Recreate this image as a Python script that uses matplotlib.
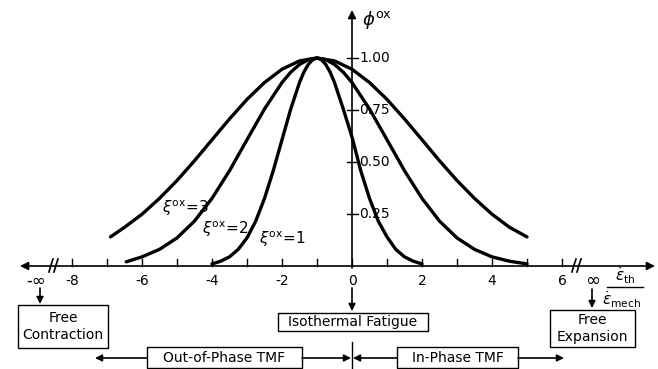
import matplotlib.pyplot as plt
from matplotlib.patches import Rectangle

# curves (phi^ox against eps_th / eps_mech)
x_xi1 = [-4.0, -3.75, -3.5, -3.25, -3.0, -2.75, -2.5, -2.25, -2.0, -1.75, -1.5, -1.375, -1.25, -1.125, -1.0,
         -0.875, -0.75, -0.625, -0.5, -0.25, 0.0, 0.25, 0.5, 0.75, 1.0, 1.25, 1.5, 1.75, 2.0]
phi_xi1 = [0.01, 0.023, 0.044, 0.08, 0.135, 0.216, 0.325, 0.458, 0.607, 0.755, 0.882, 0.932, 0.969, 0.992, 1.0,
           0.992, 0.969, 0.932, 0.882, 0.755, 0.62, 0.458, 0.325, 0.216, 0.14, 0.08, 0.044, 0.023, 0.01]

x_xi2 = [-6.45, -6.0, -5.5, -5.0, -4.5, -4.0, -3.5, -3.0, -2.5, -2.0, -1.75, -1.5, -1.25, -1.0,
         -0.75, -0.5, -0.25, 0.0, 0.5, 1.0, 1.5, 2.0, 2.5, 3.0, 3.5, 4.0, 4.5, 5.0]
phi_xi2 = [0.02, 0.044, 0.08, 0.135, 0.216, 0.325, 0.458, 0.607, 0.755, 0.882, 0.932, 0.969, 0.992, 1.0,
           0.992, 0.969, 0.932, 0.882, 0.755, 0.607, 0.458, 0.325, 0.216, 0.135, 0.08, 0.044, 0.023, 0.01]

x_xi3 = [-6.9, -6.5, -6.0, -5.5, -5.0, -4.5, -4.0, -3.5, -3.0, -2.5, -2.0, -1.5, -1.0,
         -0.5, 0.0, 0.5, 1.0, 1.5, 2.0, 2.5, 3.0, 3.5, 4.0, 4.5, 5.0]
phi_xi3 = [0.14, 0.186, 0.249, 0.325, 0.411, 0.506, 0.607, 0.707, 0.801, 0.882, 0.946, 0.986, 1.0,
           0.986, 0.946, 0.882, 0.801, 0.707, 0.607, 0.506, 0.411, 0.325, 0.249, 0.186, 0.14]

x_ticks = list(range(-8, 7))
x_labels = [-8, -6, -4, -2, 0, 2, 4, 6]
phi_ticks = [0.25, 0.50, 0.75, 1.00]
phi_labels = ["0.25", "0.50", "0.75", "1.00"]

# pixel layout of the axes: x=0 at 352 px, 35 px per unit; phi=0 at 266 px, 208 px per unit
fig = plt.figure(figsize=(6.58, 3.69), dpi=100)
ax = fig.add_axes([0, 0, 1, 1])
ax.set_xlim(-352 / 35, 306 / 35)
ax.set_ylim(-103 / 208, 266 / 208)
ax.axis("off")

ov = fig.add_axes([0, 0, 1, 1], facecolor="none")
ov.set_xlim(0, 658)
ov.set_ylim(369, 0)
ov.axis("off")

k = "black"
fs = 10

# curves
for xs, ys in [(x_xi1, phi_xi1), (x_xi2, phi_xi2), (x_xi3, phi_xi3)]:
    ax.plot(xs, ys, color=k, lw=2.4, solid_capstyle="round", solid_joinstyle="round")

# horizontal axis with arrows both ways
arr = dict(arrowstyle="-|>", lw=1.2, color=k, mutation_scale=12, shrinkA=0, shrinkB=0)
ov.annotate("", xy=(20, 266), xytext=(352, 266), arrowprops=arr)
ov.annotate("", xy=(655, 266), xytext=(352, 266), arrowprops=arr)
# vertical axis
ov.annotate("", xy=(352, 10), xytext=(352, 268), arrowprops=arr)

# break marks
for bx in [51, 56, 574, 579]:
    ov.plot([bx - 2, bx, bx + 2], [272, 265, 259], color=k, lw=1.2)

# x ticks
for t in x_ticks:
    ax.plot([t, t], [0, 7 / 208], color=k, lw=1.0)
for t in x_labels:
    ax.text(t, -15 / 208, "%d" % t, ha="center", va="center", fontsize=fs)
ov.text(36, 281, "-\u221e", ha="center", va="center", fontsize=12)
ov.text(593, 281, "\u221e", ha="center", va="center", fontsize=13)

# phi ticks
for t, lab in zip(phi_ticks, phi_labels):
    ax.plot([-5 / 35, 6 / 35], [t, t], color=k, lw=1.0)
    ax.text(7 / 35, t, lab, ha="left", va="center", fontsize=fs)

ov.text(362, 20, r"$\phi^{\mathrm{ox}}$", ha="left", va="center", fontsize=13)

# ratio label
ov.text(625, 276, r"$\dot{\epsilon}_{\mathrm{th}}$", ha="center", va="center", fontsize=11)
ov.plot([607, 643], [287, 287], color=k, lw=1.0)
ov.text(622, 300, r"$\dot{\epsilon}_{\mathrm{mech}}$", ha="center", va="center", fontsize=11)

# curve labels
ov.text(162, 208, r"$\xi^{\mathrm{ox}}\!=\!3$", ha="left", va="center", fontsize=11)
ov.text(202, 229, r"$\xi^{\mathrm{ox}}\!=\!2$", ha="left", va="center", fontsize=11)
ov.text(259, 239, r"$\xi^{\mathrm{ox}}\!=\!1$", ha="left", va="center", fontsize=11)

# down arrows and boxes
for ax_x, y0, y1 in [(40, 288, 304), (352, 288, 311), (592, 289, 308)]:
    ov.annotate("", xy=(ax_x, y1), xytext=(ax_x, y0), arrowprops=dict(arr, mutation_scale=10))

boxes = [
    (18, 305, 90, 43, "Free\nContraction"),
    (278, 313, 150, 18, "Isothermal Fatigue"),
    (550, 310, 85, 37, "Free\nExpansion"),
    (147, 347, 155, 21, "Out-of-Phase TMF"),
    (397, 347, 121, 21, "In-Phase TMF"),
]
for bx, by, bw, bh, txt in boxes:
    ov.add_patch(Rectangle((bx, by), bw, bh, fill=False, lw=1.0, ec=k))
    ov.text(bx + bw / 2, by + bh / 2, txt, ha="center", va="center", fontsize=fs,
            linespacing=1.2)

# TMF range arrows
ov.plot([352, 352], [342, 369], color=k, lw=1.0)
ov.annotate("", xy=(95, 358), xytext=(147, 358), arrowprops=dict(arr, mutation_scale=10))
ov.annotate("", xy=(351, 358), xytext=(302, 358), arrowprops=dict(arr, mutation_scale=10))
ov.annotate("", xy=(353, 358), xytext=(397, 358), arrowprops=dict(arr, mutation_scale=10))
ov.annotate("", xy=(564, 358), xytext=(518, 358), arrowprops=dict(arr, mutation_scale=10))

fig.savefig("out.png", dpi=100)
